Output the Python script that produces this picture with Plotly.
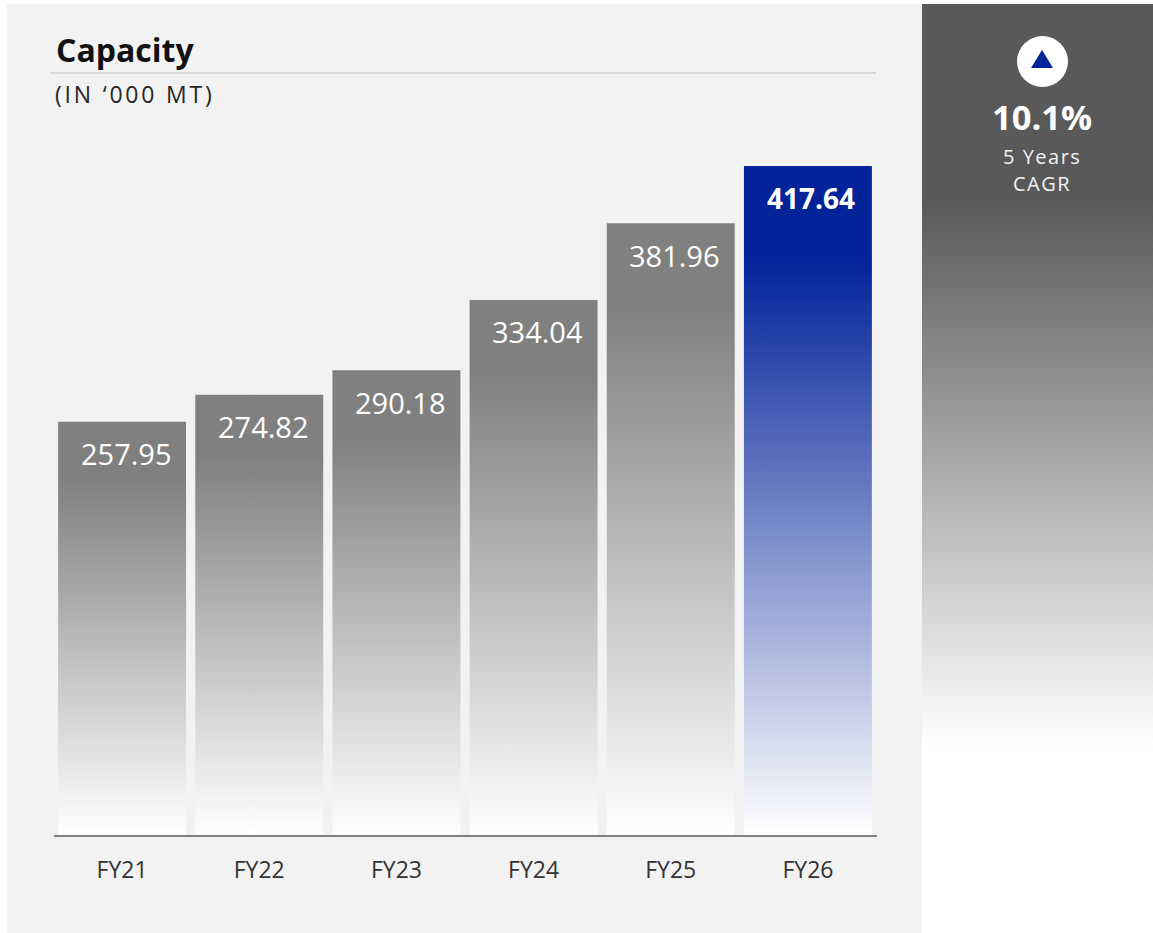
import plotly.graph_objects as go

categories = ["FY21", "FY22", "FY23", "FY24", "FY25", "FY26"]
capacity = [257.95, 274.82, 290.18, 334.04, 381.96, 417.64]
value_labels = ["257.95", "274.82", "290.18", "334.04", "381.96", "417.64"]
title_text = "Capacity"
unit_text = "(IN ‘000 MT)"
cagr_text = "10.1%"
cagr_lines = ["5 Years", "CAGR"]

W, H = 1153, 933
FONT = "Open Sans"
GRAY = "#808080"
BLUE = "#02239a"
BAR_W = 128 / 137.2
SOLID = 0.14


def px(x):
    return x / W


def py(y):
    return 1 - y / H


def bar_scale(color):
    return [[0, "#ffffff"], [1 - SOLID, color], [1, color]]


fig = go.Figure()

y_bottom_px, y_plot_top_px = 835, 100
y_max = capacity[-1] * (y_bottom_px - y_plot_top_px) / (835 - 166)

fig.add_trace(go.Bar(
    x=list(range(len(categories))), y=capacity, width=BAR_W,
    marker=dict(color="rgba(0,0,0,0)", line=dict(width=0)),
    customdata=categories, hovertemplate="%{customdata}: %{y}<extra></extra>",
    showlegend=False, xaxis="x", yaxis="y",
))

for i, v in enumerate(capacity):
    col = BLUE if i == len(capacity) - 1 else GRAY
    fig.add_trace(go.Scatter(
        x=[i - BAR_W / 2, i + BAR_W / 2], y=[v, v], mode="none", fill="tozeroy",
        fillgradient=dict(type="vertical", colorscale=bar_scale(col), start=0, stop=v),
        hoverinfo="skip", showlegend=False, xaxis="x", yaxis="y",
    ))

panel_top, panel_solid_end, panel_white = 4, 200, 745
fig.add_trace(go.Scatter(
    x=[0, 1], y=[H - panel_top, H - panel_top], mode="none", fill="tozeroy",
    fillgradient=dict(
        type="vertical",
        colorscale=[[0, "#ffffff"], [(H - panel_white) / (H - panel_top), "#ffffff"],
                    [(H - panel_solid_end) / (H - panel_top), "#595959"], [1, "#595959"]],
        start=0, stop=H - panel_top),
    hoverinfo="skip", showlegend=False, xaxis="x2", yaxis="y2",
))

annotations = []
for i, (v, lab) in enumerate(zip(capacity, value_labels)):
    last = i == len(capacity) - 1
    annotations.append(dict(
        x=i, y=v, xref="x", yref="y", text=f"<b>{lab}</b>" if last else lab,
        showarrow=False, xanchor="center", yanchor="middle",
        xshift=3 if last else 4, yshift=-32,
        font=dict(family=FONT, size=28 if last else 29, color="#ffffff"),
    ))


def label(x, y, text, size, color, anchor="center"):
    annotations.append(dict(
        x=px(x), y=py(y), xref="paper", yref="paper", text=text, showarrow=False,
        xanchor=anchor, yanchor="middle", font=dict(family=FONT, size=size, color=color),
    ))


label(54, 49.5, f"<b>{title_text}</b>", 32, "#111111", "left")
label(53, 94, f'<span style="letter-spacing:2.8px">{unit_text}</span>', 23, "#262626", "left")
label(1042, 116, f"<b>{cagr_text}</b>", 34.5, "#ffffff")
label(1042, 157, f'<span style="letter-spacing:1.5px">{cagr_lines[0]}</span>', 20, "#f2f2f2")
label(1042, 183, f'<span style="letter-spacing:1.5px">{cagr_lines[1]}</span>', 20, "#f2f2f2")

shapes = [
    dict(type="rect", xref="paper", yref="paper", x0=px(7), x1=px(922), y0=py(4), y1=py(933),
         fillcolor="#f2f2f2", line_width=0, layer="below"),
    dict(type="line", xref="paper", yref="paper", x0=px(50), x1=px(876), y0=py(73), y1=py(73),
         line=dict(color="#d0d0d0", width=1.5)),
    dict(type="circle", xref="paper", yref="paper", x0=px(1017), x1=px(1068), y0=py(87), y1=py(36),
         fillcolor="#ffffff", line_width=0),
    dict(type="path", xref="paper", yref="paper",
         path=f"M {px(1031)} {py(68)} L {px(1053)} {py(68)} L {px(1042)} {py(50)} Z",
         fillcolor=BLUE, line_width=0),
]

fig.update_layout(
    width=W, height=H, margin=dict(l=0, r=0, t=0, b=0),
    paper_bgcolor="#ffffff", plot_bgcolor="rgba(0,0,0,0)",
    showlegend=False, hovermode="closest",
    annotations=annotations, shapes=shapes,
    xaxis=dict(
        domain=[px(53.5), px(876.5)], range=[-0.5, 5.5], tickmode="array",
        tickvals=list(range(len(categories))), ticktext=categories,
        tickfont=dict(family=FONT, size=23, color="#333333"), ticks="",
        showgrid=False, zeroline=False, showline=True, linecolor="#808080", linewidth=1.5,
        ticklabelstandoff=14, anchor="y",
    ),
    yaxis=dict(
        domain=[py(y_bottom_px), py(y_plot_top_px)], range=[0, y_max],
        visible=False, showgrid=False, zeroline=False, anchor="x",
    ),
    xaxis2=dict(domain=[px(922), 1], range=[0, 1], visible=False, anchor="y2", fixedrange=True),
    yaxis2=dict(domain=[0, 1], range=[0, H], visible=False, anchor="x2", fixedrange=True),
)

fig.write_html("out.html", config={"displayModeBar": False},
               post_script="document.body.style.margin='0';document.body.style.overflow='hidden';")
